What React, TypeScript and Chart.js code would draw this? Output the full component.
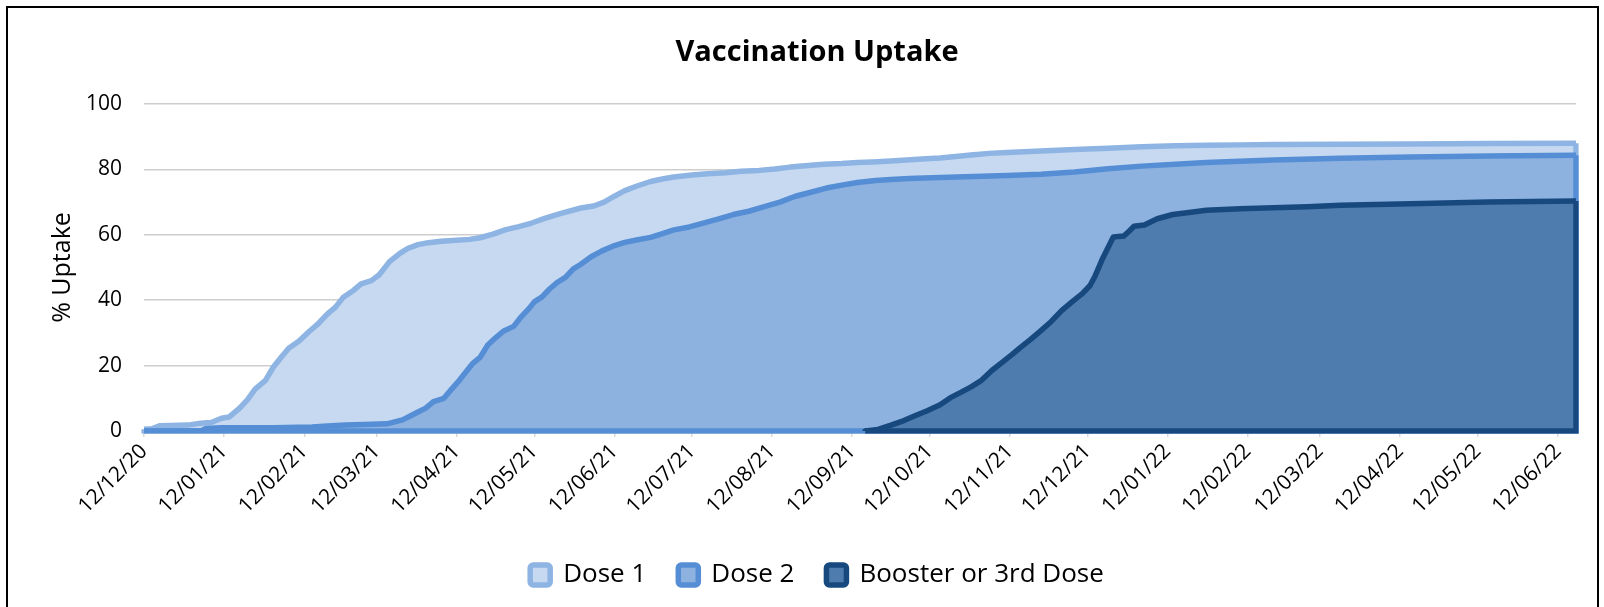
import React, { useEffect, useRef } from "react";
import { Chart, registerables } from "chart.js";

Chart.register(...registerables);

const FONT = "'Open Sans', 'Noto Sans', sans-serif";

// X axis tick labels (dd/mm/yy), a date axis measured in days since the first label
const xTickLabels = [
  "12/12/20", "12/01/21", "12/02/21", "12/03/21", "12/04/21", "12/05/21",
  "12/06/21", "12/07/21", "12/08/21", "12/09/21", "12/10/21", "12/11/21",
  "12/12/21", "12/01/22", "12/02/22", "12/03/22", "12/04/22", "12/05/22",
  "12/06/22",
];
const lastDataDay = 554; // ~18/06/22

const yTickValues = [0, 20, 40, 60, 80, 100];

const seriesNames = ["Dose 1", "Dose 2", "Booster or 3rd Dose"];

// Dose 1 (days since 12/12/20, % uptake)
const dose1Days = [
  0, 3, 6, 10, 17, 22, 26, 30, 33, 37, 40, 43, 47, 50, 53, 56, 60, 64, 67, 71,
  74, 77, 81, 84, 88, 91, 95, 99, 102, 106, 110, 115, 121, 126, 130, 135, 140,
  145, 150, 155, 161, 169, 174, 178, 182, 186, 191, 196, 200, 205, 212, 218,
  225, 231, 238, 244, 250, 257, 263, 270, 276, 282, 289, 295, 301, 308, 315,
  321, 327, 334, 347, 360, 373, 386, 399, 411, 424, 437, 463, 490, 520, 554,
];
const dose1Values = [
  0.5, 0.7, 1.6, 1.7, 1.8, 2.4, 2.6, 3.9, 4.3, 7.0, 9.5, 12.8, 15.5, 19.5, 22.5,
  25.3, 27.5, 30.5, 32.5, 35.8, 37.8, 40.8, 43.0, 45.0, 46.0, 47.8, 51.8, 54.3,
  55.8, 57.0, 57.6, 58.0, 58.3, 58.6, 59.1, 60.2, 61.6, 62.5, 63.6, 65.0, 66.5,
  68.2, 68.8, 70.0, 71.8, 73.5, 75.0, 76.3, 77.0, 77.7, 78.3, 78.7, 79.0, 79.4,
  79.7, 80.1, 80.7, 81.2, 81.6, 81.8, 82.1, 82.3, 82.6, 82.9, 83.2, 83.5, 84.0,
  84.5, 84.9, 85.2, 85.6, 86.1, 86.5, 86.9, 87.2, 87.4, 87.5, 87.6, 87.7, 87.8,
  87.9, 88.0,
];

// Dose 2
const dose2Days = [
  0, 22, 24, 30, 50, 65, 71, 78, 85, 94, 97, 100, 103, 106, 109, 112, 116, 119,
  122, 125, 127, 130, 133, 136, 139, 143, 146, 149, 151, 154, 157, 160, 163,
  166, 169, 173, 177, 182, 186, 191, 196, 200, 205, 211, 216, 222, 228, 234,
  240, 246, 252, 258, 264, 270, 276, 283, 289, 296, 308, 321, 334, 347, 360,
  373, 386, 399, 411, 424, 437, 463, 490, 520, 554,
];
const dose2Values = [
  0, 0, 0.8, 1.0, 1.0, 1.2, 1.5, 1.8, 2.0, 2.2, 2.8, 3.4, 4.6, 5.8, 7.0, 9.0,
  10.0, 12.8, 15.5, 18.5, 20.5, 22.5, 26.3, 28.5, 30.5, 32.0, 35.0, 37.5, 39.5,
  41.0, 43.5, 45.5, 47.0, 49.5, 51.0, 53.3, 55.0, 56.7, 57.7, 58.5, 59.2, 60.2,
  61.5, 62.4, 63.5, 64.8, 66.2, 67.2, 68.6, 70.0, 71.8, 73.0, 74.3, 75.2, 76.0,
  76.6, 76.9, 77.2, 77.5, 77.8, 78.1, 78.5, 79.2, 80.2, 81.0, 81.6, 82.1, 82.5,
  82.9, 83.4, 83.8, 84.1, 84.3,
];

// Booster or 3rd Dose
const boosterDays = [
  279, 284, 289, 294, 298, 303, 308, 312, 316, 320, 324, 328, 332, 336, 339,
  343, 347, 351, 355, 359, 363, 366, 368, 371, 375, 379, 381, 383, 387, 392,
  398, 405, 411, 424, 437, 450, 463, 490, 520, 554,
];
const boosterValues = [
  0, 0.5, 1.8, 3.2, 4.6, 6.2, 8.0, 10.2, 11.8, 13.5, 15.5, 18.5, 21.0, 23.5,
  25.5, 28.0, 30.7, 33.5, 36.8, 39.5, 42.0, 44.5, 47.5, 53.0, 59.3, 59.6, 61.0,
  62.6, 63.0, 64.9, 66.2, 66.9, 67.5, 68.0, 68.3, 68.6, 69.0, 69.5, 70.0, 70.3,
];

const lineColors = ["#8DB4E2", "#558ED5", "#17497F"];
const fillColors = ["#C6D9F1", "#8DB2E0", "#4E7CAF"];

function dayOf(label: string): number {
  const [d, m, y] = label.split("/").map(Number);
  const [d0, m0, y0] = xTickLabels[0].split("/").map(Number);
  return Math.round(
    (Date.UTC(2000 + y, m - 1, d) - Date.UTC(2000 + y0, m0 - 1, d0)) / 86400000
  );
}
const xTickDays = xTickLabels.map(dayOf);

function toPoints(days: number[], values: number[]) {
  return days.map((d, i) => ({ x: d, y: values[i] }));
}

// Excel-style area outline: closes each area along its right edge and the baseline
const areaOutline = {
  id: "areaOutline",
  afterDatasetDraw(chart: any, args: any) {
    const meta = args.meta;
    const ds = chart.data.datasets[args.index];
    const pts = meta.data;
    if (!pts || pts.length < 2) return;
    const y0 = chart.scales.y.getPixelForValue(0);
    const ca = chart.chartArea;
    const bw = ds.borderWidth;
    const ctx = chart.ctx;
    ctx.save();
    ctx.beginPath();
    ctx.rect(ca.left - bw / 2, ca.top - bw / 2, ca.right - ca.left + bw, ca.bottom - ca.top + bw);
    ctx.clip();
    ctx.beginPath();
    const first = pts[0];
    const last = pts[pts.length - 1];
    ctx.moveTo(last.x, last.y);
    ctx.lineTo(last.x, y0);
    ctx.lineTo(first.x, y0);
    ctx.lineTo(first.x, first.y);
    ctx.strokeStyle = ds.borderColor;
    ctx.lineWidth = bw;
    ctx.lineJoin = "miter";
    ctx.stroke();
    ctx.restore();
  },
};

export default function App() {
  const canvasRef = useRef<HTMLCanvasElement | null>(null);

  useEffect(() => {
    if (!canvasRef.current) return;
    const seriesData = [
      toPoints(dose1Days, dose1Values),
      toPoints(dose2Days, dose2Values),
      toPoints(boosterDays, boosterValues),
    ];
    const chart = new Chart(canvasRef.current, {
      type: "line",
      data: {
        datasets: seriesNames.map((name, i) => ({
          label: name,
          data: seriesData[i],
          borderColor: lineColors[i],
          backgroundColor: fillColors[i],
          borderWidth: 5.5,
          fill: "origin",
          pointRadius: 0,
          tension: 0,
          borderJoinStyle: "round",
          borderCapStyle: "round",
          order: 3 - i,
        })),
      },
      options: {
        responsive: false,
        animation: false,
        events: [],
        layout: { padding: { left: 58, right: 28, top: 8, bottom: 9 } },
        plugins: {
          title: {
            display: true,
            text: "Vaccination Uptake",
            color: "#000",
            font: { family: FONT, size: 29, weight: "bold" },
            padding: { top: 27.6, bottom: 33.6 },
          },
          legend: {
            position: "bottom",
            labels: {
              color: "#000",
              font: { family: FONT, size: 26 },
              boxWidth: 20,
              boxHeight: 20,
              padding: 32,
              useBorderRadius: true,
              borderRadius: 3,
              sort: (a: any, b: any) => a.datasetIndex - b.datasetIndex,
            },
          },
          tooltip: { enabled: false },
        },
        scales: {
          x: {
            type: "linear",
            min: 0,
            max: lastDataDay,
            afterBuildTicks: (scale: any) => {
              scale.ticks = xTickDays.map((v) => ({ value: v }));
            },
            afterFit: (scale: any) => {
              scale.height = 99;
            },
            ticks: {
              autoSkip: false,
              minRotation: 45,
              maxRotation: 45,
              color: "#000",
              padding: 2,
              font: { family: FONT, size: 21 },
              callback: (value: any) => {
                const idx = xTickDays.indexOf(Number(value));
                return idx >= 0 ? xTickLabels[idx] : "";
              },
            },
            grid: {
              drawOnChartArea: false,
              drawTicks: true,
              tickLength: 6,
              color: "#D9D9D9",
              lineWidth: 1.5,
            },
            border: { display: true, color: "#D9D9D9", width: 2 },
          },
          y: {
            min: 0,
            max: 100,
            afterBuildTicks: (scale: any) => {
              scale.ticks = yTickValues.map((v) => ({ value: v }));
            },
            afterFit: (scale: any) => {
              scale.width = 86;
            },
            ticks: {
              color: "#000",
              padding: 22,
              font: { family: FONT, size: 21 },
            },
            grid: { color: "#DADADA", lineWidth: 1.5, drawTicks: false },
            border: { display: false },
            title: {
              display: true,
              text: "% Uptake",
              color: "#000",
              font: { family: FONT, size: 25 },
              padding: { top: -10, bottom: 0 },
            },
          },
          yOverlay: {
            position: "left",
            min: 0,
            max: 100,
            z: 1,
            afterBuildTicks: (scale: any) => {
              scale.ticks = yTickValues.map((v) => ({ value: v }));
            },
            afterFit: (scale: any) => {
              scale.width = 0;
            },
            ticks: { display: false },
            grid: { color: "rgba(0,0,0,0.055)", lineWidth: 1.5, drawTicks: false },
            border: { display: false },
          },
        },
      } as any,
      plugins: [areaOutline],
    });
    return () => chart.destroy();
  }, []);

  return (
    <div
      style={{
        position: "fixed",
        left: 0,
        top: 0,
        width: 1604,
        height: 607,
        overflow: "hidden",
        background: "#fff",
      }}
    >
      <canvas
        ref={canvasRef}
        width={1604}
        height={607}
        style={{ position: "absolute", left: 0, top: 0, width: 1604, height: 607 }}
      />
      <div
        style={{
          position: "absolute",
          left: 6,
          top: 6,
          width: 1593,
          height: 700,
          boxSizing: "border-box",
          border: "2px solid #000",
          pointerEvents: "none",
        }}
      />
    </div>
  );
}
